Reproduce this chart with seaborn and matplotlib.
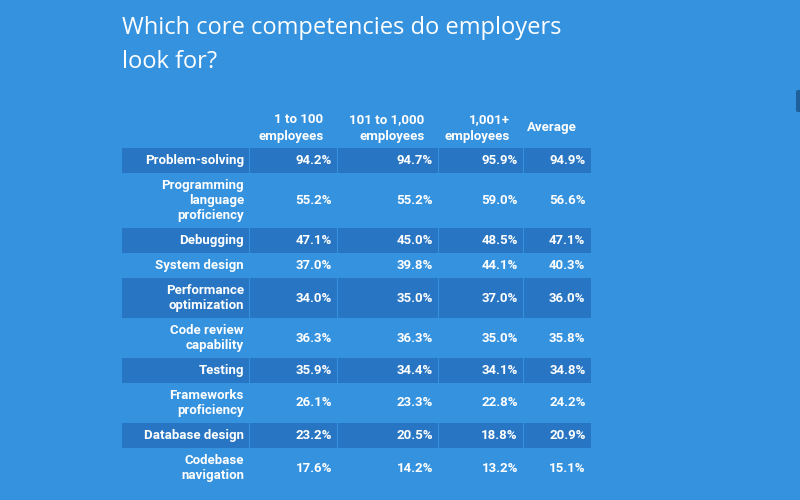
import numpy as np
import matplotlib
matplotlib.use("Agg")
import matplotlib.pyplot as plt
import seaborn as sns

# Dữ liệu bảng
skills = ["Problem-solving", "Programming\nlanguage\nproficiency", "Debugging",
          "System design", "Performance\noptimization", "Code review\ncapability",
          "Testing", "Frameworks\nproficiency", "Database design", "Codebase\nnavigation"]
small = [94.2, 55.2, 47.1, 37.0, 34.0, 36.3, 35.9, 26.1, 23.2, 17.6]
mid = [94.7, 55.2, 45.0, 39.8, 35.0, 36.3, 34.4, 23.3, 20.5, 14.2]
large = [95.9, 59.0, 48.5, 44.1, 37.0, 35.0, 34.1, 22.8, 18.8, 13.2]
average = [94.9, 56.6, 47.1, 40.3, 36.0, 35.8, 34.8, 24.2, 20.9, 15.1]
headers = ["1 to 100\nemployees", "101 to 1,000\nemployees", "1,001+\nemployees", "Average"]
title = "Which core competencies do employers\nlook for?"

sns.set_theme(style="white")
plt.rcParams['font.family'] = ['Roboto', 'DejaVu Sans']

BG = '#3592de'
DARK = '#2876c3'

fig = plt.figure(figsize=(8, 5), dpi=100)
fig.patch.set_facecolor(BG)
ax = fig.add_axes([0, 0, 1, 1])
ax.set_facecolor(BG)
ax.set_xlim(0, 800)
ax.set_ylim(500, 0)
ax.axis('off')

# Tiêu đề
ax.text(122, 68, title, fontsize=17, color='white', family=['Open Sans', 'DejaVu Sans'],
        ha='left', va='baseline', linespacing=1.55)

edges = [122, 249.5, 337.5, 438.5, 523.5, 591]
cols = [small, mid, large, average]

# Tiêu đề cột
for j, h in enumerate(headers):
    ax.text(edges[j + 2] - 14, 128, h, fontsize=9.5, fontweight='bold', color='white',
            ha='right', va='center', multialignment='right', linespacing=1.4)

# Các hàng
top = 148
for i, s in enumerate(skills):
    n = s.count('\n') + 1
    rh = 10 + 15 * n
    mid_y = top + rh / 2
    if i % 2 == 0:
        lefts = edges[:-1]
        widths = [edges[k + 1] - edges[k] - 1 for k in range(5)]
        widths[-1] += 1
        ax.bar(lefts, [rh] * 5, width=widths, bottom=top, align='edge', color=DARK, linewidth=0)
    ax.text(edges[1] - 5.5, mid_y, s, fontsize=9.5, fontweight='bold', color='white',
            ha='right', va='center', multialignment='right', linespacing=1.2)
    for j, c in enumerate(cols):
        ax.text(edges[j + 2] - 5.5, mid_y, f"{c[i]:.1f}%", fontsize=9.5, fontweight='bold',
                color='white', ha='right', va='center')
    top += rh

# Nút nhỏ bên phải
ax.add_patch(matplotlib.patches.FancyBboxPatch((796, 90), 10, 22, boxstyle="round,pad=0,rounding_size=2",
                                              color='#1f5f9a', linewidth=0))

fig.savefig("out.png", dpi=100, facecolor=BG)
